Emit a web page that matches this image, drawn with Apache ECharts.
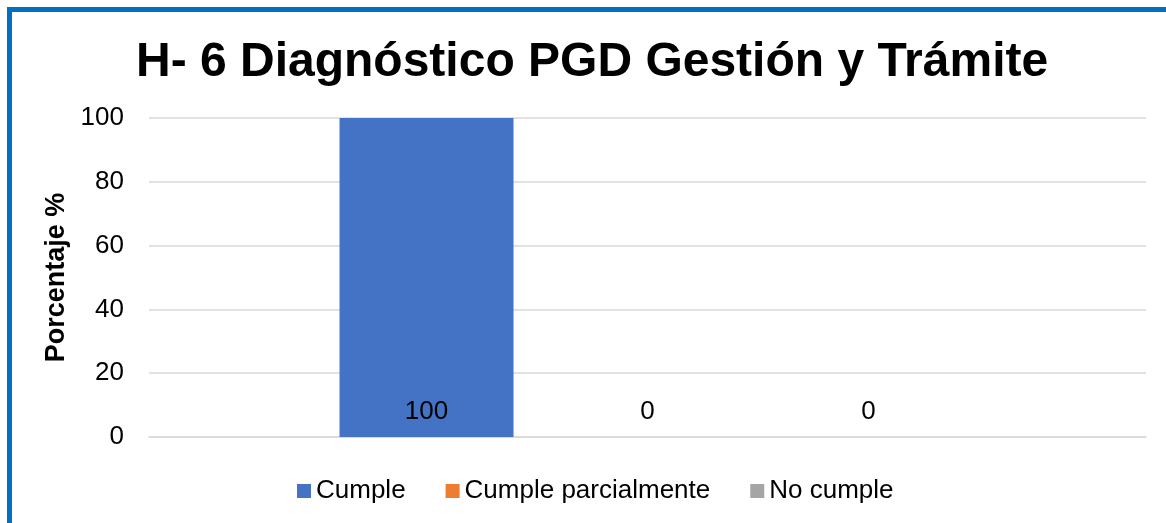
<!DOCTYPE html>
<html>
<head>
<meta charset="utf-8">
<script src="https://cdn.jsdelivr.net/npm/echarts@6/dist/echarts.min.js"></script>
<style>
html,body{margin:0;padding:0;background:#fff;}
#chart{width:1166px;height:523px;}
</style>
</head>
<body>
<div id="chart"></div>
<script>
const categories = [''];
const seriesNames = ['Cumple', 'Cumple parcialmente', 'No cumple'];
const cumple = [100];
const cumpleParcialmente = [0];
const noCumple = [0];
const yTicks = [0, 20, 40, 60, 80, 100];

const colors = ['#4472C4', '#ED7D31', '#A5A5A5'];
const values = [cumple, cumpleParcialmente, noCumple];

const chart = echarts.init(document.getElementById('chart'));
const font = 'Liberation Sans, Arial, sans-serif';
chart.setOption({
  animation: false,
  textStyle: { fontFamily: font },
  graphic: [{
    type: 'rect',
    shape: { x: 9.5, y: 9.5, width: 1300, height: 700 },
    style: { fill: 'none', stroke: '#0070C0', lineWidth: 5 },
    z: 100
  }],
  title: {
    text: 'H- 6 Diagnóstico PGD Gestión y Trámite',
    left: 131,
    top: 34,
    textStyle: { fontFamily: font, fontSize: 48, fontWeight: 'bold', color: '#000' }
  },
  legend: {
    data: seriesNames,
    top: 473,
    left: 292,
    itemWidth: 14,
    itemHeight: 14,
    itemGap: 40,
    icon: 'rect',
    textStyle: { fontFamily: font, fontSize: 26, color: '#000' }
  },
  grid: { left: 149, right: 20, top: 118, bottom: 86 },
  xAxis: {
    type: 'category',
    data: categories,
    axisLine: { show: true, lineStyle: { color: '#D9D9D9', width: 1.5 } },
    axisTick: { show: false },
    axisLabel: { show: false }
  },
  yAxis: {
    type: 'value',
    min: yTicks[0],
    max: yTicks[yTicks.length - 1],
    interval: 20,
    name: 'Porcentaje %',
    nameLocation: 'middle',
    nameGap: 77,
    nameRotate: 90,
    nameTextStyle: { fontFamily: font, fontSize: 27, fontWeight: 'bold', color: '#000' },
    axisLine: { show: false },
    axisTick: { show: false },
    axisLabel: { fontFamily: font, fontSize: 26, color: '#000', margin: 25 },
    splitLine: { lineStyle: { color: '#D9D9D9', width: 1.5 } }
  },
  series: seriesNames.map((name, i) => ({
    name: name,
    type: 'bar',
    data: values[i],
    barWidth: 174,
    barGap: '27%',
    itemStyle: { color: colors[i] },
    label: {
      show: true,
      position: 'insideBottom',
      distance: 12,
      fontFamily: font,
      fontSize: 26,
      color: '#000'
    }
  }))
});
</script>
</body>
</html>
